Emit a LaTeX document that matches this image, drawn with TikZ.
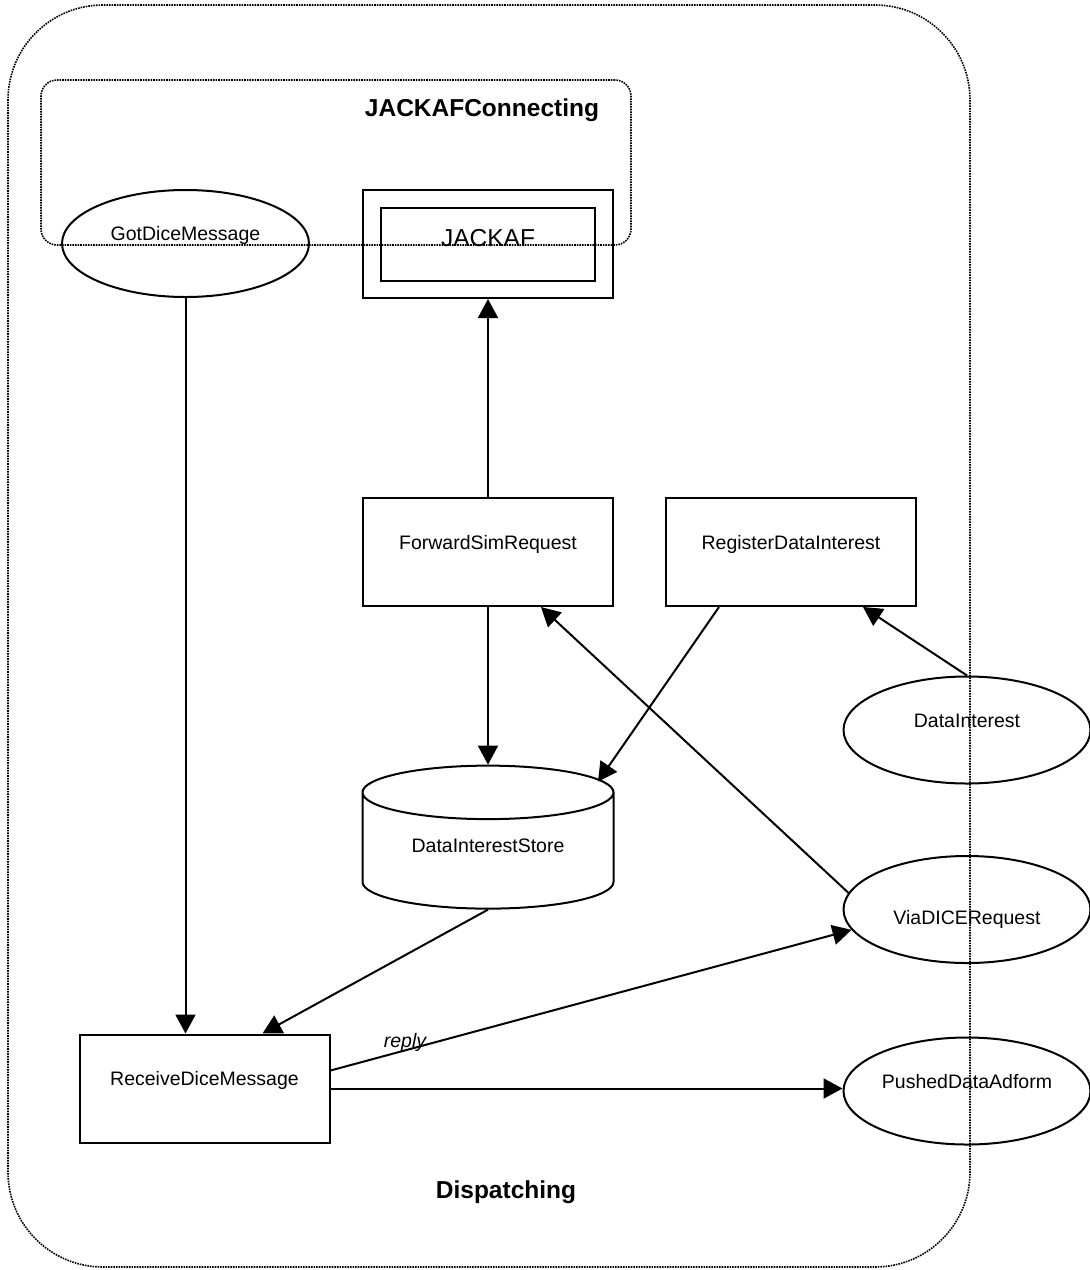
\documentclass[tikz,border=0pt]{standalone}
\usepackage{fontspec}
\setmainfont{Liberation Sans}
\usetikzlibrary{positioning,arrows.meta,shapes.geometric}
\tikzstyle{sbox}=[rectangle, draw=black, line width=2pt, minimum width=250pt,
                  minimum height=108pt, inner sep=0pt, text height=14pt, text depth=20pt,
                  font=\fontsize{19.5}{23}\selectfont]
\tikzstyle{sell}=[ellipse, draw=black, line width=2pt, minimum width=247pt,
                  minimum height=107pt, inner sep=0pt, text height=14pt, text depth=20pt,
                  font=\fontsize{19.5}{23}\selectfont]
\tikzstyle{store}=[cylinder, shape border rotate=90, aspect=0.35, draw=black,
                   line width=2pt, minimum width=251pt, minimum height=143pt, inner sep=0pt,
                   text height=14pt, text depth=12pt, font=\fontsize{19.5}{23}\selectfont]
\tikzstyle{frame}=[rectangle, draw=black, line width=1.6pt, dash pattern=on 1.6pt off 1pt]
\tikzstyle{title}=[font=\fontsize{24.5}{28}\selectfont\bfseries]
\tikzstyle{lbl}=[font=\fontsize{19.5}{23}\selectfont\itshape, inner sep=0pt]
\tikzstyle{pline}=[line width=2pt, -{Triangle[length=19pt,width=20pt]}]
\begin{document}
\begin{tikzpicture}[x=1pt,y=-1pt]
\useasboundingbox (0,0) rectangle (1090,1270);

\node (DISP) [frame, rounded corners=95pt, minimum width=962pt, minimum height=1262pt] at (489,636) {};
\node (CONN) [frame, rounded corners=16pt, minimum width=590pt, minimum height=165pt] at (336,162.5) {};
\node (CONNL) [title] at (482,110) {JACKAFConnecting};
\node (DISPL) [title] at (506,1192) {Dispatching};

\node (GDM) [sell] at (185.5,243.5) {GotDiceMessage};
\node (JAF) [sbox] at (488,244) {};
\node (JAFIN) [sbox, minimum width=214pt, minimum height=73pt, text height=18pt,
               text depth=14pt, font=\fontsize{24.5}{28}\selectfont] at (JAF) {JACKAF};
\node (FSR) [sbox] at (488,552) {ForwardSimRequest};
\node (RDI) [sbox, right=51pt of FSR] {RegisterDataInterest};
\node (DI) [sell] at (967,730) {DataInterest};
\node (DIS) [store] at (488,851) {DataInterestStore};
\node (VDR) [sell, text height=34pt, text depth=4pt] at (967,909.5) {ViaDICERequest};
\node (RDM) [sbox] at (204.5,1088.5) {ReceiveDiceMessage};
\node (PDA) [sell] at (967,1091) {PushedDataAdform};

\draw[pline] (GDM.south) -- (GDM.south |- RDM.north);
\draw[pline] (FSR.north) -- (JAF.south);
\draw[pline] (FSR.south) -- (DIS.north);
\draw[pline] ([xshift=-72pt]RDI.south) -- ([xshift=110pt,yshift=-17pt]DIS.north);
\draw[pline] (DI.north) -- ([xshift=72pt]RDI.south);
\draw[pline] (VDR.172) -- ([xshift=53pt]FSR.south);
\draw[pline] (DIS.south) -- ([xshift=58pt]RDM.north);
\draw[pline] ([yshift=18pt]RDM.east) -- node[pos=0.143, yshift=8pt, lbl] (RPL) {reply} (VDR.190);
\draw[pline] (RDM.east) -- (RDM.east -| PDA.west);

\end{tikzpicture}
\end{document}
